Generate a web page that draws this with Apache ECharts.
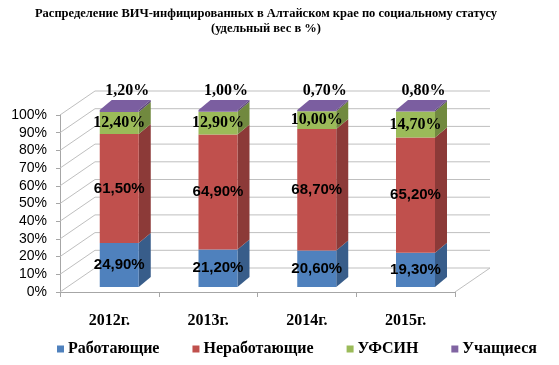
<!DOCTYPE html>
<html><head><meta charset="utf-8">
<script src="https://cdn.jsdelivr.net/npm/echarts@6/dist/echarts.min.js"></script>
<style>html,body{margin:0;padding:0;background:#fff}#c{width:559px;height:365px}</style>
</head><body><div id="c"></div>
<script>
const categories = ['2012г.', '2013г.', '2014г.', '2015г.'];
const seriesNames = ['Работающие', 'Неработающие', 'УФСИН', 'Учащиеся'];
const working = [24.9, 21.2, 20.6, 19.3];
const nonWorking = [61.5, 64.9, 68.7, 65.2];
const ufsin = [12.4, 12.9, 10.0, 14.7];
const students = [1.2, 1.0, 0.7, 0.8];
const yTicks = [0, 10, 20, 30, 40, 50, 60, 70, 80, 90, 100];

const values = [working, nonWorking, ufsin, students];
const front = ['#4F81BD', '#C0504D', '#9BBB59', '#8064A2'];
const side = ['#385D8A', '#8C3A38', '#71893F', '#5C4776'];
const topC = ['#6A95CB', '#CD6A67', '#AFC97A', '#7B5EA0'];
const SERIF = '"Times New Roman", "Liberation Serif", serif';
const labelFont = ['bold 15px Arial, "Liberation Sans"', 'bold 15px Arial, "Liberation Sans"', 'bold 16px ' + SERIF, 'bold 16px ' + SERIF];

const WD = 35, WH = -24;   // wall depth offset
const BD = 12, BH = -10;   // bar depth offset

function fmt(v) { return v.toFixed(2).replace('.', ',') + '%'; }

const bases = categories.map(() => 0);
const barSeries = values.map((arr, k) => {
  const data = arr.map((v, i) => {
    const d = [i, bases[i], bases[i] + v, v];
    bases[i] += v;
    return d;
  });
  return {
    type: 'custom', name: seriesNames[k], z: 3,
    itemStyle: { color: front[k] },
    data: data,
    encode: { x: 0, y: [1, 2] },
    renderItem: function (params, api) {
      const i = api.value(0), y0 = api.value(1), y1 = api.value(2), val = api.value(3);
      const pb = api.coord([i, y0]), pt = api.coord([i, y1]);
      const cw = api.size([1, 0])[0];
      const w = cw * 0.395;
      const cx = pb[0] + cw * 0.1;
      const xl = cx - w / 2, xr = cx + w / 2;
      const yb = pb[1] - 5, yt = pt[1] - 5;
      const ch = [
        { type: 'polygon', shape: { points: [[xr, yb], [xr + BD, yb + BH], [xr + BD, yt + BH], [xr, yt]] }, style: { fill: side[k] } },
        { type: 'rect', shape: { x: xl, y: yt, width: w, height: yb - yt }, style: { fill: front[k] } }
      ];
      if (k === values.length - 1) {
        ch.push({ type: 'polygon', shape: { points: [[xl, yt], [xl + BD, yt + BH], [xr + BD, yt + BH], [xr, yt]] }, style: { fill: topC[k] } });
        ch.push({ type: 'text', z2: 100, style: { text: fmt(val), x: cx + 8, y: yt + BH - 9, align: 'center', verticalAlign: 'middle', fill: '#000', font: labelFont[k] } });
      } else {
        ch.push({ type: 'text', z2: 100, style: { text: fmt(val), x: cx, y: (yb + yt) / 2, align: 'center', verticalAlign: 'middle', fill: '#000', font: labelFont[k] } });
      }
      return { type: 'group', children: ch };
    }
  };
});

const gridSeries = {
  type: 'custom', name: 'grid', z: 1, silent: true,
  data: yTicks.map(v => [0, v]),
  encode: { x: 0, y: 1 },
  renderItem: function (params, api) {
    const v = api.value(1);
    const cs = params.coordSys;
    const y = api.coord([0, v])[1];
    const left = cs.x, right = cs.x + cs.width;
    const ch = [{ type: 'polyline', shape: { points: [[left, y], [left + WD, y + WH], [right + WD, y + WH]] }, style: { stroke: '#BFBFBF', lineWidth: 1, fill: null } }];
    if (v === 0) {
      ch.push({ type: 'line', shape: { x1: right, y1: y, x2: right + WD, y2: y + WH }, style: { stroke: '#BFBFBF', lineWidth: 1 } });
    }
    return { type: 'group', children: ch };
  }
};

const chart = echarts.init(document.getElementById('c'), null, { renderer: 'canvas' });
chart.setOption({
  animation: false,
  backgroundColor: '#fff',
  title: {
    text: 'Распределение ВИЧ-инфицированных в Алтайском крае по социальному статусу\n(удельный вес в %)',
    left: 261, textAlign: 'center', top: 1,
    textStyle: { fontFamily: SERIF, fontWeight: 'bold', fontSize: 12.5, lineHeight: 15, color: '#000' }
  },
  legend: {
    data: seriesNames, left: 52, top: 336, icon: 'rect', itemWidth: 7, itemHeight: 7, itemGap: 33,
    textStyle: { fontFamily: SERIF, fontWeight: 'bold', fontSize: 16, color: '#000', padding: [0, 0, 0, -1] }
  },
  grid: { left: 60, top: 115, width: 395, height: 177 },
  xAxis: {
    type: 'category', data: categories, boundaryGap: true,
    axisLine: { lineStyle: { color: '#A6A6A6' } },
    axisTick: { show: true, length: 5, lineStyle: { color: '#A6A6A6' } },
    axisLabel: { margin: 21, color: '#000', fontFamily: SERIF, fontWeight: 'bold', fontSize: 16 }
  },
  yAxis: {
    type: 'value', min: 0, max: 100, interval: 10,
    axisLine: { show: true, lineStyle: { color: '#A6A6A6' } },
    axisTick: { show: true, length: 4, lineStyle: { color: '#A6A6A6' } },
    splitLine: { show: false },
    axisLabel: { formatter: '{value}%', margin: 13, color: '#000', fontFamily: 'Arial, "Liberation Sans", sans-serif', fontSize: 14 }
  },
  series: [gridSeries].concat(barSeries)
});
</script></body></html>
